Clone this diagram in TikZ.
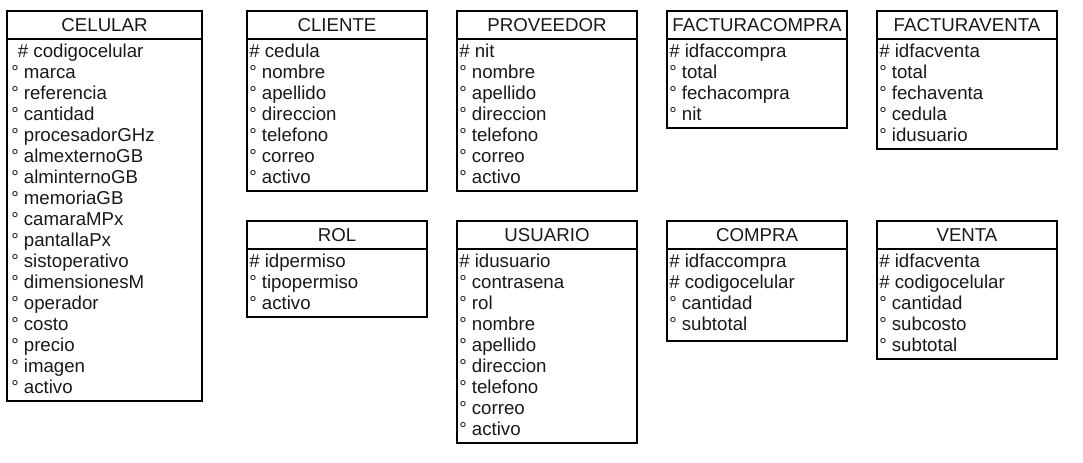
\documentclass[tikz,border=0pt]{standalone}
\usepackage{fontspec}
\setmainfont{Liberation Sans}
\begin{document}
\begin{tikzpicture}[x=0.75pt,y=-0.75pt,
  box/.style={draw=black,line width=0.9pt},
  ttl/.style={anchor=base,inner sep=0pt,font=\fontsize{14pt}{16pt}\selectfont,text=black!90},
  row/.style={anchor=base west,inner sep=0pt,font=\fontsize{14pt}{16pt}\selectfont,text=black!90}]
\useasboundingbox (0,0) rectangle (1083,463);
\newcommand\ent[8]{%
  \draw[box] (#2,#3) rectangle (#4,#5);
  \draw[box] (#2,#3+28) -- (#4,#3+28);
  \node[ttl] (#1) at ({(#2+#4)/2},#3+21) {#6};
  \foreach \r [count=\i from 0] in {#8}
    \node[row] (#1-\i) at (#2+#7,#3+46.5+21*\i) {\r};
}
\ent{celular}{7}{11}{202}{401}{CELULAR}{4}{\hspace{5pt}\# codigocelular,° marca,° referencia,° cantidad,° procesadorGHz,° almexternoGB,° alminternoGB,° memoriaGB,° camaraMPx,° pantallaPx,° sistoperativo,° dimensionesM,° operador,° costo,° precio,° imagen,° activo}
\ent{cliente}{247}{11}{427}{191}{CLIENTE}{2}{\# cedula,° nombre,° apellido,° direccion,° telefono,° correo,° activo}
\ent{proveedor}{457}{11}{637}{191}{PROVEEDOR}{2}{\# nit,° nombre,° apellido,° direccion,° telefono,° correo,° activo}
\ent{facturacompra}{667}{11}{847}{128}{FACTURACOMPRA}{2}{\# idfaccompra,° total,° fechacompra,° nit}
\ent{facturaventa}{877}{11}{1057}{149}{FACTURAVENTA}{2}{\# idfacventa,° total,° fechaventa,° cedula,° idusuario}
\ent{rol}{247}{221}{427}{317}{ROL}{2}{\# idpermiso,° tipopermiso,° activo}
\ent{usuario}{457}{221}{637}{443}{USUARIO}{2}{\# idusuario,° contrasena,° rol,° nombre,° apellido,° direccion,° telefono,° correo,° activo}
\ent{compra}{667}{221}{847}{341}{COMPRA}{2}{\# idfaccompra,\# codigocelular,° cantidad,° subtotal}
\ent{venta}{877}{221}{1057}{359}{VENTA}{2}{\# idfacventa,\# codigocelular,° cantidad,° subcosto,° subtotal}
\end{tikzpicture}
\end{document}
